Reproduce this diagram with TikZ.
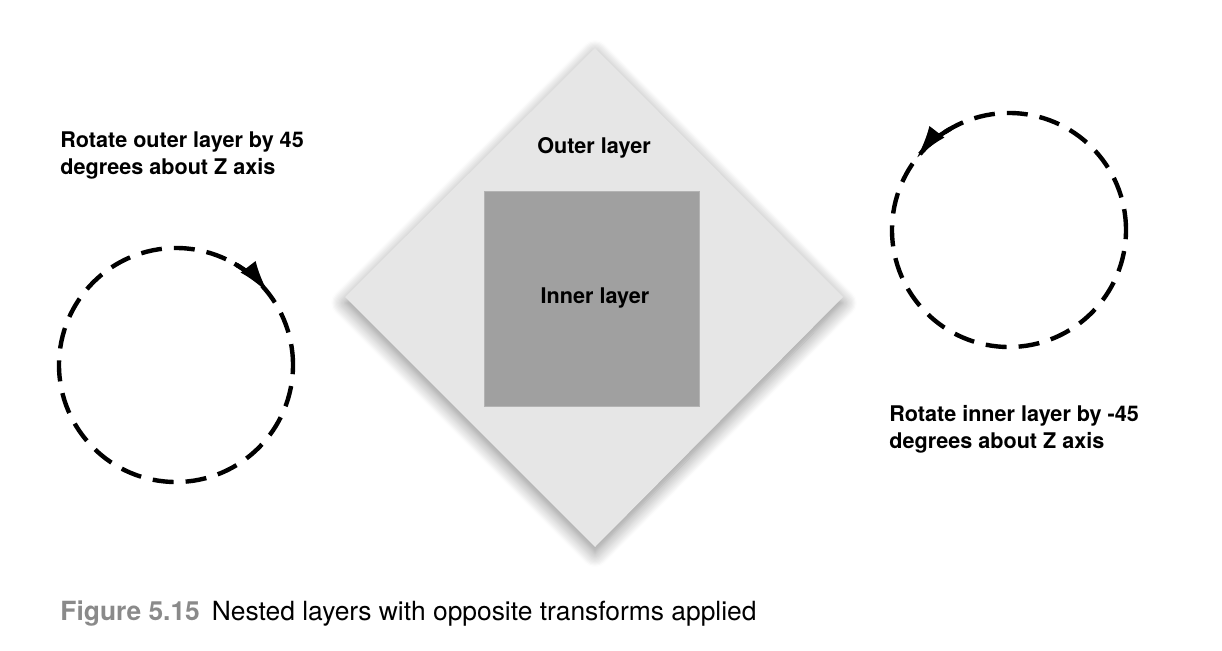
\documentclass[tikz,border=0pt]{standalone}
\usepackage{fontspec}
\setmainfont{TeX Gyre Heros}
\usepackage{tikz}
\usetikzlibrary{arrows.meta, positioning, shapes.geometric, shadows.blur}
\definecolor{outergray}{HTML}{E6E6E6}
\definecolor{innergray}{HTML}{A0A0A0}
\definecolor{capgray}{HTML}{8A8A8A}

\begin{document}
\begin{tikzpicture}[x=0.5pt, y=0.5pt, >=Latex,
  lbl/.style={font=\fontsize{10.8}{13.5}\selectfont\bfseries, align=left, inner sep=0pt},
  ring/.style={circle, draw, line width=2.2pt, dash pattern=on 10.5pt off 6pt, minimum size=117pt, inner sep=0pt, outer sep=0pt},
  spin/.style={line width=2.2pt, -{Latex[length=17pt, width=9.5pt, fill=black]}}]
\useasboundingbox (0,0) rectangle (1222,650);

% outer layer (rotated square)
\coordinate (oTop) at (595,602);
\coordinate (oRight) at (843,353);
\coordinate (oBot) at (595,103);
\coordinate (oLeft) at (345,353);
\fill[outergray, blur shadow={shadow xshift=0pt, shadow yshift=-3pt, shadow blur radius=7pt, shadow blur steps=12, shadow opacity=45}]
  (oTop) -- (oRight) -- (oBot) -- (oLeft) -- cycle;
\node[lbl] (outerTxt) at (594,502) {Outer layer};

% inner layer
\node[rectangle, fill=innergray, draw=innergray!80!white, minimum size=107.5pt, inner sep=0pt] (inner) at (592,351) {};
\node[lbl] (innerTxt) at (595,352) {Inner layer};

% left: rotate outer layer
\node[lbl, anchor=west] (txtL) at (60,495) {Rotate outer layer by 45\\degrees about Z axis};
\node[ring] (rotL) at (176,285) {};
\draw[spin] (rotL.60) arc[start angle=60, end angle=37.5, radius=58.5pt];

% right: rotate inner layer
\node[ring] (rotR) at (1009,420) {};
\draw[spin] (rotR.120) arc[start angle=120, end angle=142.5, radius=58.5pt];
\node[lbl, anchor=west] (txtR) at (889,220.5) {Rotate inner layer by -45\\degrees about Z axis};

% caption
\node[anchor=west, inner sep=0pt, font=\fontsize{13.2}{15}\selectfont] (cap) at (60,36)
  {{\color{capgray}\bfseries Figure 5.15}\hspace{6pt}Nested layers with opposite transforms applied};
\end{tikzpicture}
\end{document}
